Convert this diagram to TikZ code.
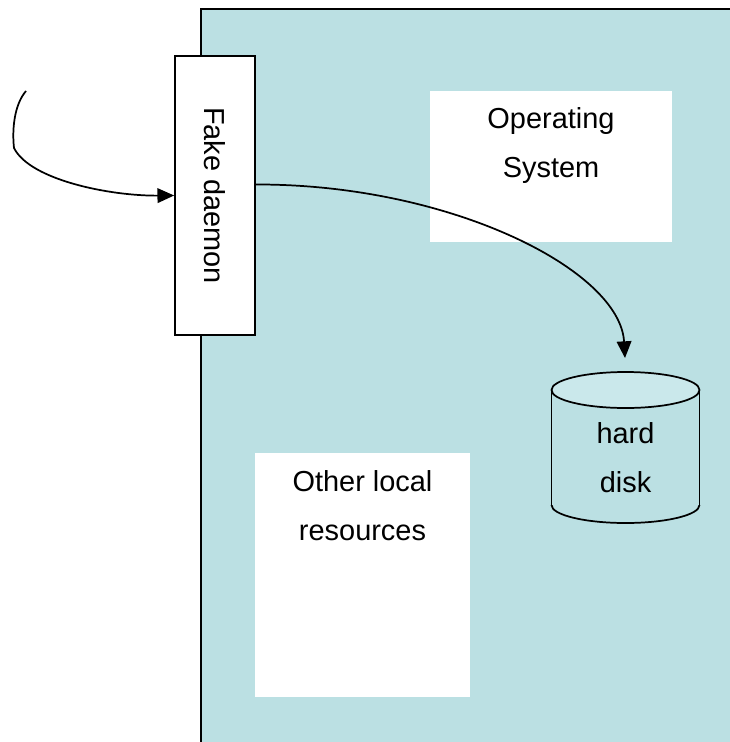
\documentclass[tikz,border=0pt]{standalone}
\usepackage{fontspec}
\setmainfont{Liberation Sans}
\usetikzlibrary{arrows.meta}
\definecolor{hostfill}{HTML}{BBE0E3}
\definecolor{disktop}{HTML}{CAE8EB}
\tikzset{
  lbl/.style={align=center, inner sep=0pt, font=\fontsize{21.7pt}{36.75pt}\selectfont},
  panel/.style={fill=white, inner sep=0pt},
  outline/.style={line width=1.3pt, draw=black},
  link/.style={line width=1.3pt, -{Triangle[length=12.5pt,width=11pt]}},
}
\begin{document}
\begin{tikzpicture}[x=0.75pt, y=-0.75pt]
  \useasboundingbox (0,0) rectangle (730,742);

  % host machine area (runs off the right and bottom edges)
  \fill[hostfill] (201,9) rectangle (730,742);
  \draw[outline] (201,742) -- (201,9) -- (730,9);

  % white panels inside the host
  \node[panel, minimum width=181.5pt, minimum height=113.25pt] (os) at (551,166.5) {};
  \node[lbl] (oslabel) at (551,146) {Operating\\System};

  \node[panel, minimum width=161.25pt, minimum height=183pt] (other) at (362.5,575) {};
  \node[lbl] (otherlabel) at (362.5,505.5) {Other local\\resources};

  % hard disk cylinder
  \fill[hostfill] (625.5,505) ellipse [x radius=74, y radius=18];
  \fill[hostfill] (551.5,390) rectangle (699.5,505);
  \draw[outline] (551.5,390) -- (551.5,505) (699.5,390) -- (699.5,505);
  \begin{scope}
    \clip (540,505) rectangle (712,530);
    \draw[outline] (625.5,505) ellipse [x radius=74, y radius=18];
  \end{scope}
  \filldraw[outline, fill=disktop] (625.5,390) ellipse [x radius=74, y radius=18];
  \node[lbl] (disk) at (625.5,457.5) {hard\\disk};
  \coordinate (diskin) at (625,358);

  % fake daemon sitting on the host boundary
  \node[outline, fill=white, minimum width=60pt, minimum height=209.25pt, inner sep=0pt] (daemon) at (215,195.5) {};
  \node[lbl, rotate=-90] (daemonlabel) at (daemon.center) {Fake daemon};

  % incoming request and write to disk
  \coordinate (src) at (26,91);
  \draw[link] (src) .. controls (14,105) and (12,130) .. (14,148)
              .. controls (30,180) and (110,196) .. (daemon.west);
  \draw[link] ([yshift=8.25pt]daemon.east) .. controls (450,184) and (620,270) .. (diskin);
\end{tikzpicture}
\end{document}
